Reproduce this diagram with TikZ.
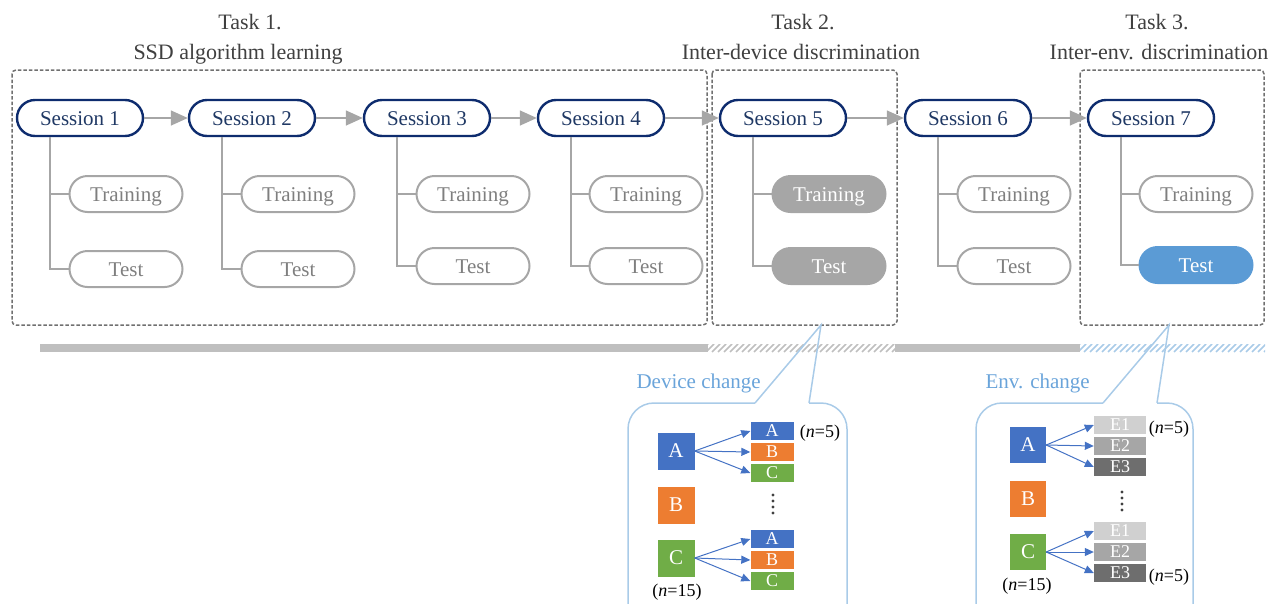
\documentclass[tikz,border=0pt]{standalone}
\usepackage{fontspec}
\setmainfont{Liberation Serif}
\usetikzlibrary{arrows.meta,calc}

\definecolor{navy}{HTML}{0E2C6E}
\definecolor{navytext}{HTML}{1F3864}
\definecolor{linegray}{HTML}{A6A6A6}
\definecolor{txtgray}{HTML}{7F7F7F}
\definecolor{boxgray}{HTML}{707070}
\definecolor{titlegray}{HTML}{404040}
\definecolor{barg}{HTML}{BFBFBF}
\definecolor{callblue}{HTML}{A9CBE8}
\definecolor{labelblue}{HTML}{6AA4DA}
\definecolor{testblue}{HTML}{5B9BD5}
\definecolor{devA}{HTML}{4472C4}
\definecolor{devB}{HTML}{ED7D31}
\definecolor{devC}{HTML}{70AD47}
\definecolor{envone}{HTML}{D0D0D0}
\definecolor{envtwo}{HTML}{A6A6A6}
\definecolor{envthree}{HTML}{6E6E6E}

\tikzset{
  session/.style={draw=navy, line width=2.4pt, rounded corners=18pt,
    minimum width=126pt, minimum height=36pt, inner sep=0pt,
    text height=14pt, text depth=0pt,
    text=navytext, font=\fontsize{21}{21}\selectfont},
  phase/.style={draw=linegray, line width=2pt, rounded corners=18pt,
    minimum width=113pt, minimum height=36pt, inner sep=0pt,
    text height=14pt, text depth=0pt,
    text=txtgray, font=\fontsize{21}{21}\selectfont},
  phasegray/.style={phase, fill=linegray, text=white},
  phaseblue/.style={phase, draw=testblue, fill=testblue, text=white},
  flow/.style={draw=linegray, line width=1.5pt, -{Triangle[length=17pt,width=15pt]}},
  tree/.style={draw=linegray, line width=1.5pt},
  taskbox/.style={draw=boxgray, line width=1.5pt, rounded corners=4pt,
    dash pattern=on 3.5pt off 2pt},
  tasktitle/.style={text=titlegray, font=\fontsize{22}{22}\selectfont, anchor=base},
  callout/.style={draw=callblue, line width=1.5pt},
  calltitle/.style={text=labelblue, font=\fontsize{21}{21}\selectfont, anchor=base west},
  bigsq/.style={minimum size=37pt, inner sep=0pt, text=white,
    font=\fontsize{21}{21}\selectfont},
  smallbox/.style={minimum width=43pt, minimum height=18pt, inner sep=0pt,
    text=white, font=\fontsize{18}{18}\selectfont},
  envbox/.style={smallbox, minimum width=52pt},
  count/.style={font=\fontsize{18}{18}\selectfont, text=black},
  pick/.style={draw=devA, line width=1pt, -{Triangle[length=9pt,width=8pt]}},
  hatchline/.style={line width=1.6pt},
}

\begin{document}
\begin{tikzpicture}[x=1pt, y=-1pt]
\useasboundingbox (0,0) rectangle (1276,603);

% task titles
\node[tasktitle] (t1a) at (250,29) {Task 1.};
\node[tasktitle] (t1b) at (238,59) {SSD algorithm learning};
\node[tasktitle] (t2a) at (803,29) {Task 2.};
\node[tasktitle] (t2b) at (801,59) {Inter-device discrimination};
\node[tasktitle] (t3a) at (1157,29) {Task 3.};
\node[tasktitle] (t3b) at (1159,59) {Inter-env. discrimination};

% task frames
\draw[taskbox] (12,70) rectangle (707,325);
\draw[taskbox] (712,70) rectangle (897,325);
\draw[taskbox] (1080,70) rectangle (1264,325);

% sessions
\node[session] (s1) at (80,118) {Session 1};
\node[session] (s2) at (252,118) {Session 2};
\node[session] (s3) at (427,118) {Session 3};
\node[session] (s4) at (601,118) {Session 4};
\node[session] (s5) at (783,118) {Session 5};
\node[session] (s6) at (968,118) {Session 6};
\node[session] (s7) at (1151,118) {Session 7};

\foreach \a/\b in {s1/s2,s2/s3,s3/s4,s4/s5,s5/s6,s6/s7}
  \draw[flow] (\a.east) -- (\b.west);

% training and test phases
\node[phase] (tr1) at (126,194) {Training};
\node[phase] (te1) at (126,269) {Test};
\node[phase] (tr2) at (298,194) {Training};
\node[phase] (te2) at (298,269) {Test};
\node[phase] (tr3) at (473,194) {Training};
\node[phase] (te3) at (473,266) {Test};
\node[phase] (tr4) at (646,194) {Training};
\node[phase] (te4) at (646,266) {Test};
\node[phasegray] (tr5) at (829,194) {Training};
\node[phasegray] (te5) at (829,266) {Test};
\node[phase] (tr6) at (1014,194) {Training};
\node[phase] (te6) at (1014,266) {Test};
\node[phase] (tr7) at (1196,194) {Training};
\node[phaseblue] (te7) at (1196,265) {Test};

\foreach \i in {1,...,7}{
  \draw[tree] ([xshift=34pt]s\i.south west) |- (tr\i.west);
  \draw[tree] ([xshift=34pt]s\i.south west) |- (te\i.west);
}

% time line
\fill[barg] (40,344) rectangle (708,352);
\fill[barg] (895,344) rectangle (1080,352);
\begin{scope}
  \clip (708,344) rectangle (895,352);
  \foreach \x in {700,706,...,900}
    \draw[hatchline, draw=barg] (\x,352) -- (\x+8,344);
\end{scope}
\begin{scope}
  \clip (1080,344) rectangle (1265,352);
  \foreach \x in {1072,1078,...,1270}
    \draw[hatchline, draw=callblue] (\x,352) -- (\x+8,344);
\end{scope}

% device change callout
\coordinate (dtip) at (821,325);
\draw[callout] (809,403) -- (dtip) -- (755,403);
\draw[callout, rounded corners=26pt] (755,403) -- (628,403) -- (628,650)
  -- (847,650) -- (847,403) -- (809,403);
\node[calltitle] (dlab) at (633,388) {Device change};

\node[bigsq, fill=devA] (dA) at (676,451) {A};
\node[bigsq, fill=devB] (dB) at (676,505) {B};
\node[bigsq, fill=devC] (dC) at (676,558) {C};

\node[smallbox, fill=devA] (dA1) at (772,431) {A};
\node[smallbox, fill=devB] (dB1) at (772,452) {B};
\node[smallbox, fill=devC] (dC1) at (772,473) {C};
\node[smallbox, fill=devA] (dA2) at (772,539) {A};
\node[smallbox, fill=devB] (dB2) at (772,560) {B};
\node[smallbox, fill=devC] (dC2) at (772,581) {C};

\foreach \t in {dA1,dB1,dC1} \draw[pick] (dA.east) -- (\t.west);
\foreach \t in {dA2,dB2,dC2} \draw[pick] (dC.east) -- (\t.west);

\foreach \y in {495,501,507,513} \fill[black!75] (773,\y) circle (1.6pt);

\node[count] (dn5) at (820,433) {(\textit{n}=5)};
\node[count] (dn15) at (677,592) {(\textit{n}=15)};

% environment change callout
\coordinate (etip) at (1169,325);
\draw[callout] (1157,403) -- (etip) -- (1103,403);
\draw[callout, rounded corners=26pt] (1103,403) -- (976,403) -- (976,650)
  -- (1193,650) -- (1193,403) -- (1157,403);
\node[calltitle] (elab) at (982,388) {Env. change};

\node[bigsq, minimum size=36pt, fill=devA] (eA) at (1028,445) {A};
\node[bigsq, minimum size=36pt, fill=devB] (eB) at (1028,499) {B};
\node[bigsq, minimum size=36pt, fill=devC] (eC) at (1028,552) {C};

\node[envbox, fill=envone] (e11) at (1120,425) {E1};
\node[envbox, fill=envtwo] (e21) at (1120,446) {E2};
\node[envbox, fill=envthree] (e31) at (1120,467) {E3};
\node[envbox, fill=envone] (e12) at (1120,531) {E1};
\node[envbox, fill=envtwo] (e22) at (1120,552) {E2};
\node[envbox, fill=envthree] (e32) at (1120,573) {E3};

\foreach \t in {e11,e21,e31} \draw[pick] (eA.east) -- (\t.west);
\foreach \t in {e12,e22,e32} \draw[pick] (eC.east) -- (\t.west);

\foreach \y in {492,498,504,510} \fill[black!75] (1122,\y) circle (1.6pt);

\node[count] (en5a) at (1169,429) {(\textit{n}=5)};
\node[count] (en5b) at (1169,577) {(\textit{n}=5)};
\node[count] (en15) at (1027,586) {(\textit{n}=15)};
\end{tikzpicture}
\end{document}
